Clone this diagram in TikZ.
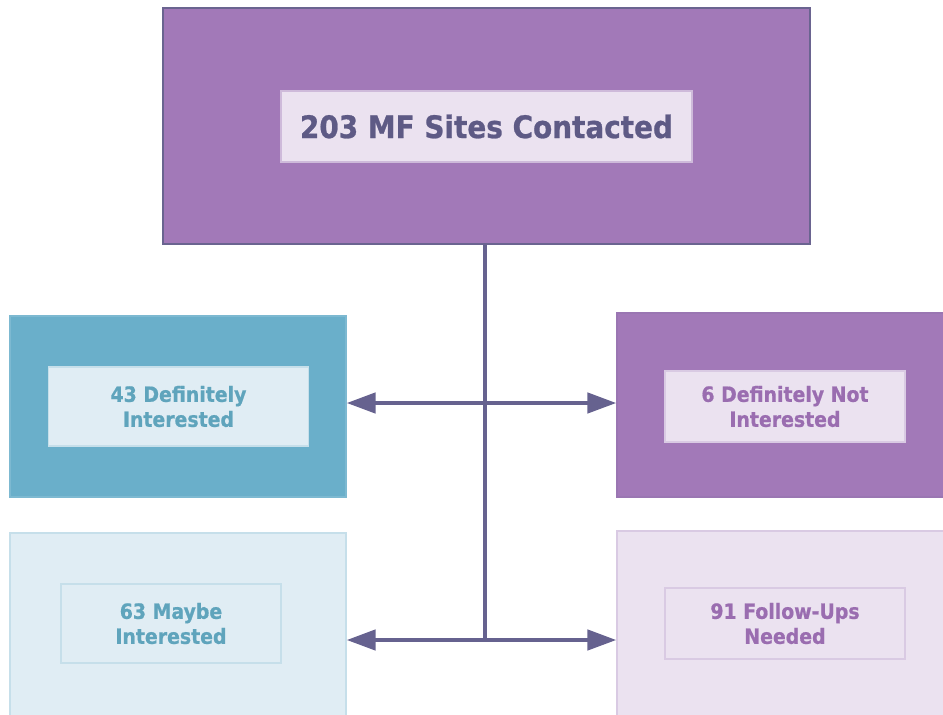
\documentclass[tikz,border=0pt]{standalone}
\usepackage{fontspec}
\usetikzlibrary{arrows.meta}
\newfontfamily\labfont{DejaVu Sans Condensed}[BoldFeatures={FakeBold=0.8}]
\definecolor{plumfill}{HTML}{A279B8}
\definecolor{plumedge}{HTML}{6A6490}
\definecolor{plumtext}{HTML}{9A6DB0}
\definecolor{plumpale}{HTML}{EBE2F0}
\definecolor{plumpaleedge}{HTML}{D9CAE3}
\definecolor{tealfill}{HTML}{6AAFCA}
\definecolor{tealedge}{HTML}{7DB9D1}
\definecolor{tealtext}{HTML}{5FA4BC}
\definecolor{tealpale}{HTML}{E0EDF4}
\definecolor{tealpaleedge}{HTML}{C6DFEA}
\definecolor{linkcol}{HTML}{66628F}
\definecolor{headtext}{HTML}{5E5A85}
\begin{document}
\begin{tikzpicture}[x=1pt,y=-1pt,
  outerbox/.style={rectangle, inner sep=0pt, line width=1.2pt},
  innerbox/.style={rectangle, inner sep=0pt, line width=1.2pt, align=center,
    font=\labfont\bfseries\fontsize{21}{25}\selectfont},
  link/.style={draw=linkcol, line width=4.5pt},
  arr/.style={link, -{Triangle[length=29pt,width=20pt]}}]
\useasboundingbox (0,0) rectangle (943,715);
% source box
\node[outerbox, fill=plumfill, draw=plumedge, minimum width=647pt, minimum height=236pt] (top) at (486.5,126) {};
\node[innerbox, fill=plumpale, draw=plumpaleedge!80!plumfill, text=headtext,
  minimum width=411pt, minimum height=71pt,
  font=\labfont\bfseries\fontsize{31}{38}\selectfont] (topin) at (486.5,126.5) {203 MF Sites Contacted};
% outcome boxes
\node[outerbox, fill=tealfill, draw=tealedge, minimum width=336pt, minimum height=181pt] (lt) at (178,406.5) {};
\node[innerbox, fill=tealpale, draw=tealpaleedge, text=tealtext, minimum width=260pt, minimum height=79pt] (ltin) at (178.5,406.5) {43 Definitely\\Interested};
\node[outerbox, fill=plumfill, draw=plumfill!85!plumedge, minimum width=329pt, minimum height=184pt] (rt) at (781.5,405) {};
\node[innerbox, fill=plumpale, draw=plumpaleedge, text=plumtext, minimum width=240pt, minimum height=71pt] (rtin) at (785,406.5) {6 Definitely Not\\Interested};
\node[outerbox, fill=tealpale, draw=tealpaleedge, minimum width=336pt, minimum height=187pt] (lb) at (178,626.5) {};
\node[innerbox, fill=tealpale, draw=tealpaleedge, text=tealtext, minimum width=220pt, minimum height=79pt] (lbin) at (171,623.5) {63 Maybe\\Interested};
\node[outerbox, fill=plumpale, draw=plumpaleedge, minimum width=329pt, minimum height=189pt] (rb) at (781.5,625.5) {};
\node[innerbox, fill=plumpale, draw=plumpaleedge, text=plumtext, minimum width=240pt, minimum height=71pt] (rbin) at (785,623.5) {91 Follow-Ups\\Needed};
% connectors
\coordinate (j1) at (485,403);
\coordinate (j2) at (485,640);
\draw[link] (top.south -| j1) -- (j2);
\draw[arr] (j1) -- (lt.east |- j1);
\draw[arr] (j1) -- (rt.west |- j1);
\draw[arr] (j2) -- (lb.east |- j2);
\draw[arr] (j2) -- (rb.west |- j2);
\end{tikzpicture}
\end{document}
